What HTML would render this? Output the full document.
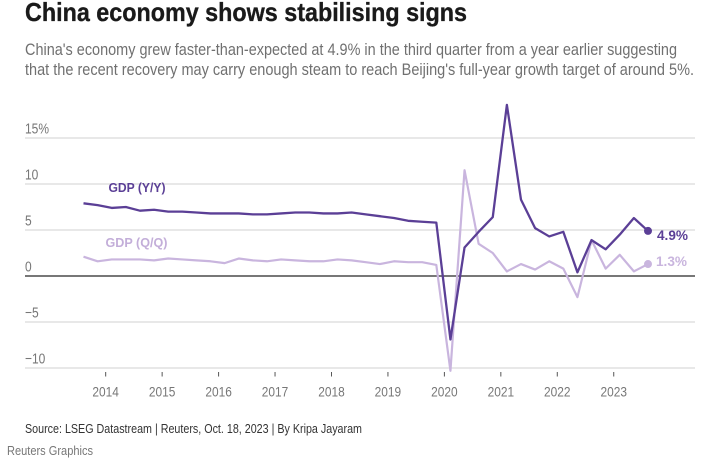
<!DOCTYPE html>
<html lang="en">
<head>
<meta charset="utf-8">
<title>China economy shows stabilising signs</title>
<style>
html,body{margin:0;padding:0;background:#fff;width:715px;height:466px;overflow:hidden}
svg{display:block;font-family:"Liberation Sans",sans-serif}
</style>
</head>
<body>
<svg id="chart" width="715" height="466" viewBox="0 0 715 466" xmlns="http://www.w3.org/2000/svg">
  <text x="25" y="21" font-size="26" font-weight="700" fill="#1a1a1a" stroke="#1a1a1a" stroke-width="0.35" textLength="442" lengthAdjust="spacingAndGlyphs">China economy shows stabilising signs</text>
  <text x="25" y="55" font-size="16.5" fill="#707070" textLength="652" lengthAdjust="spacingAndGlyphs">China's economy grew faster-than-expected at 4.9% in the third quarter from a year earlier suggesting</text>
  <text x="25" y="75" font-size="16.5" fill="#707070" textLength="669" lengthAdjust="spacingAndGlyphs">that the recent recovery may carry enough steam to reach Beijing's full-year growth target of around 5%.</text>
  <g id="grid"></g>
  <g id="xaxis"></g>
  <g id="series"></g>
  <text x="108.5" y="192" font-size="13" font-weight="700" fill="#5b3f96" textLength="57" lengthAdjust="spacingAndGlyphs">GDP (Y/Y)</text>
  <text x="105.5" y="247" font-size="13" font-weight="700" fill="#c3aed9" textLength="62" lengthAdjust="spacingAndGlyphs">GDP (Q/Q)</text>
  <text x="657" y="240" font-size="13.5" font-weight="700" fill="#5b3f96" textLength="31" lengthAdjust="spacingAndGlyphs">4.9%</text>
  <text x="656" y="266" font-size="13.5" font-weight="700" fill="#c9b5de" textLength="31" lengthAdjust="spacingAndGlyphs">1.3%</text>
  <text x="25" y="433" font-size="12.5" fill="#333" textLength="337" lengthAdjust="spacingAndGlyphs">Source: LSEG Datastream | Reuters, Oct. 18, 2023 | By Kripa Jayaram</text>
  <text x="7" y="455" font-size="12.5" fill="#777" textLength="86" lengthAdjust="spacingAndGlyphs">Reuters Graphics</text>
</svg>
<script>
const yTickValues = [15, 10, 5, 0, -5, -10];
const yTickLabels = ['15%', '10', '5', '0', '\u22125', '\u221210'];
const yearTicks = [2014, 2015, 2016, 2017, 2018, 2019, 2020, 2021, 2022, 2023];
const firstQuarter = 2013.5;
const gdpYoY = [7.9, 7.7, 7.4, 7.5, 7.1, 7.2, 7.0, 7.0, 6.9, 6.8, 6.8, 6.8, 6.7, 6.7, 6.8, 6.9, 6.9, 6.8, 6.8, 6.9, 6.7, 6.5, 6.3, 6.0, 5.9, 5.8, -6.9, 3.1, 4.8, 6.4, 18.6, 8.3, 5.2, 4.3, 4.8, 0.4, 3.9, 2.9, 4.5, 6.3, 4.9];
const gdpQoQ = [2.1, 1.6, 1.8, 1.8, 1.8, 1.7, 1.9, 1.8, 1.7, 1.6, 1.4, 1.9, 1.7, 1.6, 1.8, 1.7, 1.6, 1.6, 1.8, 1.7, 1.5, 1.3, 1.6, 1.5, 1.5, 1.2, -10.3, 11.5, 3.5, 2.5, 0.5, 1.3, 0.7, 1.6, 0.8, -2.3, 3.9, 0.8, 2.3, 0.5, 1.3];

const NS = 'http://www.w3.org/2000/svg';
function yScale(v) { return 276 - v * 9.2; }
function xScale(t) { return 83.5 + (t - firstQuarter) * 56.45; }
function make(tag, attrs, parent) {
  const el = document.createElementNS(NS, tag);
  for (const k in attrs) el.setAttribute(k, attrs[k]);
  parent.appendChild(el);
  return el;
}
const grid = document.getElementById('grid');
const xaxis = document.getElementById('xaxis');
const seriesG = document.getElementById('series');

yTickValues.forEach(function (v, i) {
  const line = make('line', {x1: 25, x2: 695, y1: yScale(v), y2: yScale(v), stroke: v === 0 ? '#4a4a4a' : '#d2d2d2', 'stroke-width': v === 0 ? 1.4 : 1.1}, grid);
  
  
  const label = make('text', {transform: 'translate(25,' + (yScale(v) - 4.3) + ') scale(0.8,1)', 'font-size': 15, fill: '#777'}, grid);
  label.textContent = yTickLabels[i];
  
  
});

yearTicks.forEach(function (yr) {
  const x = xScale(yr - 0.107);
  const tick = make('line', {x1: x, x2: x, y1: 372, y2: 376.5, stroke: '#555', 'stroke-width': 1}, xaxis);
  
  
  const label = make('text', {x: x, y: 396.5, 'font-size': 14, fill: '#777', 'text-anchor': 'middle', textLength: 26.5, lengthAdjust: 'spacingAndGlyphs'}, xaxis);
  label.textContent = yr;
  
  
});

function drawSeries(values, color, dotColor, width, name) {
  const pts = values.map(function (v, i) {
    return xScale(firstQuarter + i / 4).toFixed(2) + ',' + yScale(v).toFixed(2);
  }).join(' ');
  const line = make('polyline', {points: pts, fill: 'none', stroke: color, 'stroke-width': width, 'stroke-linejoin': 'round'}, seriesG);
  
  
  const last = values.length - 1;
  const dot = make('circle', {cx: xScale(firstQuarter + last / 4), cy: yScale(values[last]), r: 4, fill: dotColor}, seriesG);
  
  
}
drawSeries(gdpQoQ, '#c9b5de', '#c9b5de', 2.2, 'gdp-qoq');
drawSeries(gdpYoY, '#5b3f96', '#5b3f96', 2.3, 'gdp-yoy');
</script>
</body>
</html>
